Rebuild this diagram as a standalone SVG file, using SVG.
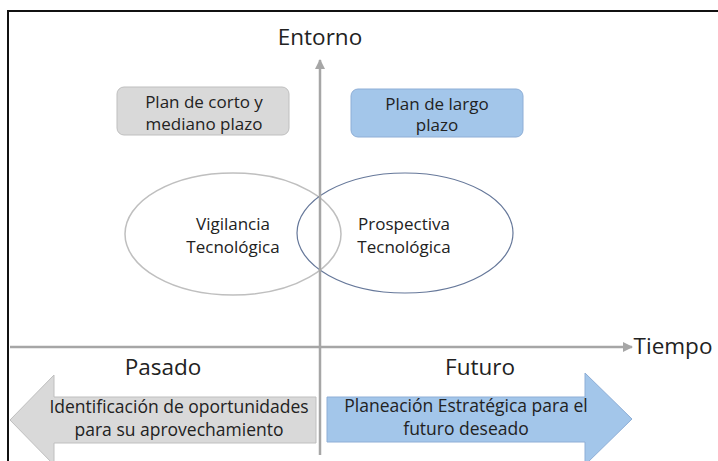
<svg xmlns="http://www.w3.org/2000/svg" width="718" height="461" viewBox="0 0 718 461">
<style>
text{font-family:"Open Sans","Liberation Sans",sans-serif;fill:#222;text-anchor:middle}
.lbl{font-size:22.5px}
.box{font-size:17px}
.ell{font-size:17px}
.arr{font-size:17.5px}
.axis{stroke:#a6a6a6;stroke-width:2.5;fill:none}
</style>
<defs>
<marker id="ah" viewBox="0 0 10 10" refX="9" refY="5" markerWidth="4" markerHeight="4" orient="auto" markerUnits="strokeWidth">
<path d="M0,0 L10,5 L0,10 z" fill="#a6a6a6"/>
</marker>
</defs>
<rect width="718" height="461" fill="#ffffff"/>
<path d="M8,461 V11 H718" fill="none" stroke="#111" stroke-width="2"/>

<g id="ellipse-vigilancia">
<ellipse cx="233" cy="234" rx="108" ry="61" fill="none" stroke="#bfbfbf" stroke-width="1.5"/>
<text class="ell" x="233" y="230">Vigilancia</text>
<text class="ell" x="233" y="253">Tecnológica</text>
</g>
<g id="ellipse-prospectiva">
<ellipse cx="405" cy="233" rx="108" ry="60" fill="none" stroke="#66789a" stroke-width="1.2"/>
<text class="ell" x="404" y="230">Prospectiva</text>
<text class="ell" x="404" y="253">Tecnológica</text>
</g>

<g id="connectors">
<line class="axis" x1="320" y1="455" x2="320" y2="60" marker-end="url(#ah)"/>
<line class="axis" x1="10" y1="347" x2="632" y2="347" marker-end="url(#ah)"/>
</g>

<g id="label-entorno"><text class="lbl" x="320" y="45">Entorno</text></g>
<g id="label-tiempo"><text class="lbl" x="673" y="354">Tiempo</text></g>
<g id="label-pasado"><text class="lbl" x="163" y="375">Pasado</text></g>
<g id="label-futuro"><text class="lbl" x="480" y="375">Futuro</text></g>

<g id="box-corto">
<rect x="117" y="87" width="172" height="48" rx="7" fill="#d9d9d9" stroke="#bfbfbf" stroke-width="1"/>
<text class="box" x="204" y="108">Plan de corto y</text>
<text class="box" x="204" y="130">mediano plazo</text>
</g>
<g id="box-largo">
<rect x="351" y="89" width="172" height="48" rx="7" fill="#a3c6ea" stroke="#8eaed6" stroke-width="1"/>
<text class="box" x="437" y="110">Plan de largo</text>
<text class="box" x="437" y="131">plazo</text>
</g>

<g id="arrow-pasado">
<path d="M10,420 L54,375 L54,397 L316,397 L316,443 L54,443 L54,465 Z" fill="#d9d9d9" stroke="#bfbfbf" stroke-width="1"/>
<text class="arr" x="179" y="413">Identificación de oportunidades</text>
<text class="arr" x="179" y="436">para su aprovechamiento</text>
</g>
<g id="arrow-futuro">
<path d="M632,419 L585,373 L585,397 L327,397 L327,442 L585,442 L585,465 Z" fill="#a3c6ea" stroke="#8eaed6" stroke-width="1"/>
<text class="arr" x="466" y="412">Planeación Estratégica para el</text>
<text class="arr" x="466" y="435">futuro deseado</text>
</g>
</svg>
